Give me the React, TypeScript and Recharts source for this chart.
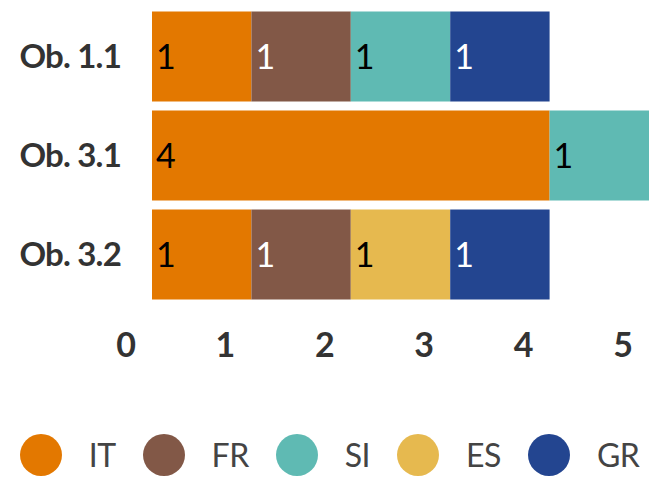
import React from "react";
import { BarChart, Bar, XAxis, YAxis, Legend, LabelList } from "recharts";

const categories = ["Ob. 1.1", "Ob. 3.1", "Ob. 3.2"];
const itValues = [1, 4, 1];
const frValues = [1, null, 1];
const siValues = [1, 1, null];
const esValues = [null, null, 1];
const grValues = [1, null, 1];
const xTicks = [0, 1, 2, 3, 4, 5];

const series = [
  { key: "IT", values: itValues, color: "#e37800", labelColor: "#000" },
  { key: "FR", values: frValues, color: "#825847", labelColor: "#fff" },
  { key: "SI", values: siValues, color: "#5fbab3", labelColor: "#000" },
  { key: "ES", values: esValues, color: "#e6b94f", labelColor: "#000" },
  { key: "GR", values: grValues, color: "#234590", labelColor: "#fff" },
];

const data = categories.map((name, i) => {
  const row: Record<string, any> = { name };
  series.forEach((s) => {
    if (s.values[i] != null) row[s.key] = s.values[i];
  });
  return row;
});

const FONT = "Lato, 'Noto Sans', sans-serif";

function XTick({ x, y, payload }: any) {
  return (
    <text x={x - 26} y={y + 53.5} textAnchor="middle" fill="#333" fontSize={34} fontWeight={700} fontFamily={FONT}>
      {payload.value}
    </text>
  );
}

function YTick({ x, y, payload }: any) {
  return (
    <text x={x - 31} y={y + 12} textAnchor="end" fill="#333" fontSize={33} fontWeight={700} letterSpacing={-0.8} fontFamily={FONT}>
      {payload.value}
    </text>
  );
}

function makeLabel(color: string) {
  return ({ x, y, height, value }: any) => {
    if (value == null) return null;
    return (
      <text x={x + 4} y={y + height / 2 + 12} fill={color} fontSize={34} fontFamily={FONT}>
        {value}
      </text>
    );
  };
}

function LegendContent() {
  return (
    <div style={{ display: "flex", justifyContent: "center", alignItems: "center", height: 42, fontFamily: FONT }}>
      {series.map((s, i) => (
        <div key={s.key} style={{ display: "flex", alignItems: "center", marginLeft: i === 0 ? 0 : 27 }}>
          <span style={{ width: 42, height: 42, borderRadius: "50%", background: s.color, display: "inline-block" }} />
          <span style={{ marginLeft: 27, fontSize: 32, color: "#444", lineHeight: "42px", letterSpacing: -0.5 }}>{s.key}</span>
        </div>
      ))}
    </div>
  );
}

export default function App() {
  return (
    <div style={{ position: "absolute", left: 0, top: 0, background: "#fff" }}>
      <BarChart
        width={659}
        height={479}
        data={data}
        layout="vertical"
        margin={{ top: 6.5, right: 10, left: 0, bottom: 53.5 }}
      >
        <XAxis
          type="number"
          domain={[0, 5]}
          ticks={xTicks}
          axisLine={false}
          tickLine={false}
          tickSize={0}
          tickMargin={0}
          height={80}
          tick={<XTick />}
          interval={0}
        />
        <YAxis
          type="category"
          dataKey="name"
          width={152}
          axisLine={false}
          tickLine={false}
          tickSize={0}
          tickMargin={0}
          tick={<YTick />}
          interval={0}
        />
        <Legend
          verticalAlign="bottom"
          content={<LegendContent />}
          wrapperStyle={{ top: 434, left: 0, width: 659, height: 42 }}
        />
        {series.map((s) => (
          <Bar key={s.key} dataKey={s.key} stackId="a" fill={s.color} barSize={90} isAnimationActive={false}>
            <LabelList dataKey={s.key} content={makeLabel(s.labelColor)} />
          </Bar>
        ))}
      </BarChart>
    </div>
  );
}
